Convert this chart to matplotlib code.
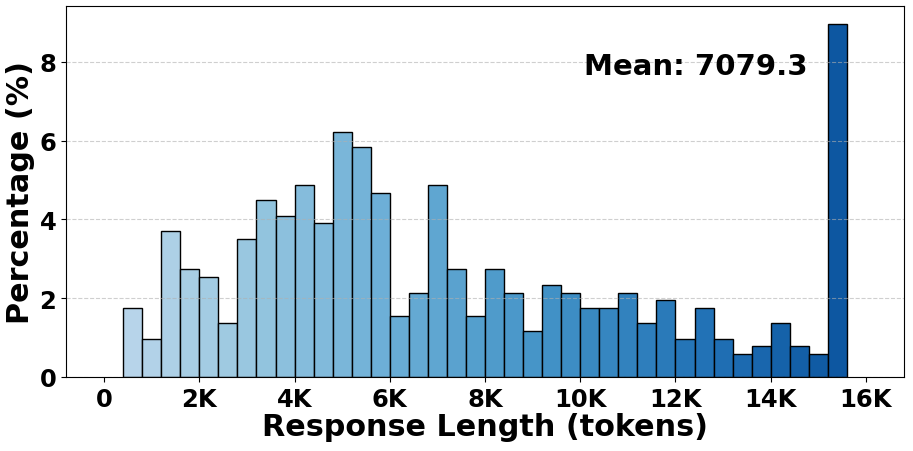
import numpy as np
import matplotlib
matplotlib.use("Agg")
import matplotlib.pyplot as plt

bin_width = 400
bin_starts = [400 + 400 * i for i in range(38)]
percentages = [1.75, 0.97, 3.71, 2.73, 2.54, 1.37, 3.51, 4.49, 4.09, 4.87,
               3.90, 6.23, 5.84, 4.67, 1.56, 2.14, 4.87, 2.73, 1.56, 2.73,
               2.14, 1.17, 2.34, 2.14, 1.75, 1.75, 2.14, 1.37, 1.95, 0.97,
               1.75, 0.97, 0.58, 0.78, 1.37, 0.78, 0.58, 8.97]
mean_value = 7079.3
xtick_vals = [0, 2000, 4000, 6000, 8000, 10000, 12000, 14000, 16000]
xtick_labels = ["0", "2K", "4K", "6K", "8K", "10K", "12K", "14K", "16K"]
ytick_vals = [0, 2, 4, 6, 8]

plt.rcParams['font.family'] = ['DejaVu Sans']
plt.rcParams['font.weight'] = 'bold'

fig = plt.figure(figsize=(9.13, 4.52), dpi=100)
ax = fig.add_axes([66 / 913, 1 - 378 / 452, (904 - 66) / 913, (378 - 7) / 452])

colors = plt.cm.Blues(np.linspace(0.3, 0.85, len(percentages)))
ax.bar(bin_starts, percentages, width=bin_width, align='edge',
       color=colors, edgecolor='black', linewidth=1.0)

ax.set_xlim(-800, 16800)
ax.set_ylim(0, 9.42)
ax.set_xticks(xtick_vals)
ax.set_xticklabels(xtick_labels)
ax.set_yticks(ytick_vals)
ax.tick_params(axis='both', labelsize=17.5)
for lbl in ax.get_xticklabels() + ax.get_yticklabels():
    lbl.set_fontweight('bold')

ax.set_xlabel("Response Length (tokens)", fontsize=21.8, fontweight='bold', labelpad=1)
ax.set_ylabel("Percentage (%)", fontsize=21.8, fontweight='bold', labelpad=3)
ax.grid(axis='y', linestyle='--', alpha=0.6)

ax.text(0.881 * (905 - 88) / (904 - 66) + (88 - 66) / (904 - 66), 0.838, f"Mean: {mean_value}",
        transform=ax.transAxes, ha='right', va='center', fontsize=21, fontweight='bold')

fig.savefig("out.png", dpi=100)
